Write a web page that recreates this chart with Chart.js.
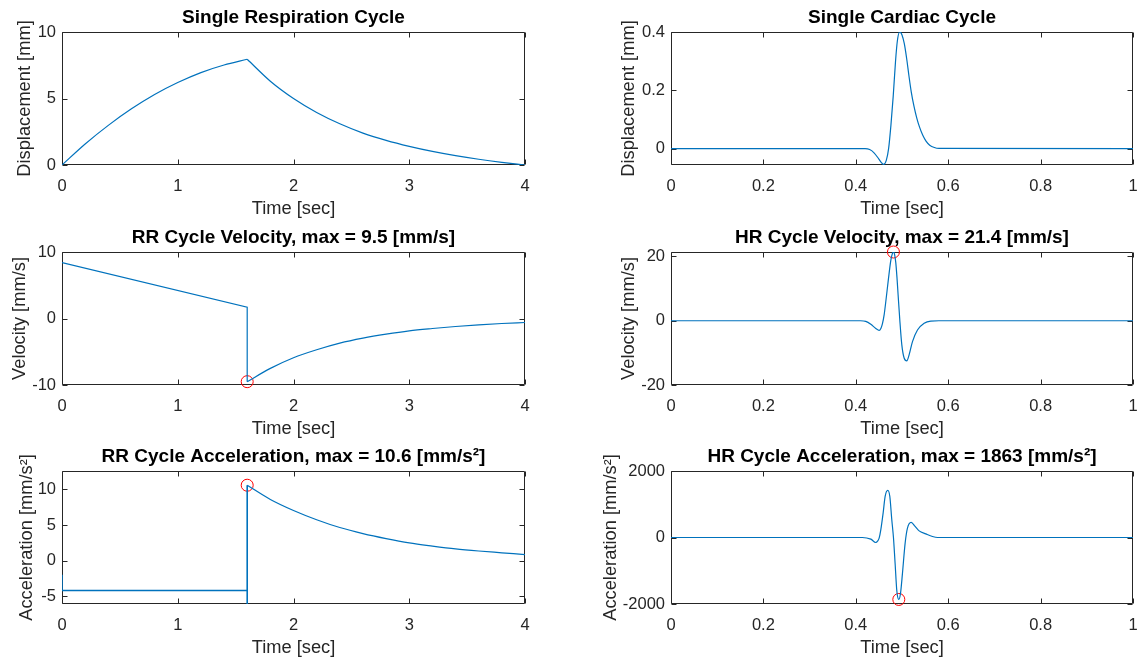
<!DOCTYPE html>
<html>
<head>
<meta charset="utf-8">
<script src="https://cdn.jsdelivr.net/npm/chart.js@4.4.1/dist/chart.umd.min.js"></script>
<style>
  html, body { margin: 0; padding: 0; background: #fff; width: 1138px; height: 663px; overflow: hidden; }
  canvas { position: absolute; }
</style>
</head>
<body>
<canvas id="c1"></canvas>
<canvas id="c2"></canvas>
<canvas id="c3"></canvas>
<canvas id="c4"></canvas>
<canvas id="c5"></canvas>
<canvas id="c6"></canvas>
<script>
// respiration cycle (left column), time in sec
const respRiseT = [0, 0.2, 0.4, 0.6, 0.8, 1.0, 1.2, 1.4, 1.6];
const respRiseY = [0, 1.58, 2.98, 4.22, 5.3, 6.2, 6.95, 7.52, 7.95];
const decayT = [1.6, 1.8, 2.0, 2.2, 2.4, 2.6, 2.8, 3.0, 3.2, 3.4, 3.6, 3.8, 4.0];
const respFallY = [7.95, 6.3, 5.0, 3.95, 3.1, 2.4, 1.85, 1.4, 1.02, 0.7, 0.43, 0.2, 0];

const rrVelLineT = [0, 1.6, 1.6];
const rrVelLineY = [8.4, 1.7, -9.5];
const rrVelDecayY = [-9.5, -7.5, -5.9, -4.7, -3.7, -2.95, -2.35, -1.85, -1.5, -1.2, -0.95, -0.75, -0.6];

const rrAccLineT = [0, 0, 1.6, 1.6, 1.6];
const rrAccLineY = [-2.0, -4.2, -4.2, -8, 10.6];
const rrAccDecayY = [10.6, 8.6, 7.05, 5.75, 4.65, 3.8, 3.1, 2.5, 2.05, 1.65, 1.35, 1.1, 0.85];

// cardiac cycle (right column)
const hrDispT = [0, 0.42, 0.43, 0.44, 0.45, 0.455, 0.46, 0.466, 0.471, 0.476, 0.481, 0.486, 0.490, 0.495,
  0.500, 0.505, 0.510, 0.515, 0.520, 0.526, 0.532, 0.538, 0.545, 0.552, 0.56, 0.57, 0.58, 1.0];
const hrDispY = [0, 0, -0.003, -0.015, -0.036, -0.047, -0.054, -0.04, 0.0, 0.08, 0.18, 0.30, 0.37, 0.40,
  0.39, 0.36, 0.31, 0.25, 0.195, 0.145, 0.105, 0.074, 0.046, 0.026, 0.012, 0.004, 0.001, 0];

const hrVelT = [0, 0.41, 0.4216, 0.4325, 0.4433, 0.4505, 0.4545, 0.4577, 0.4615, 0.4649, 0.4707, 0.4758,
  0.4790, 0.4815, 0.4840, 0.4866, 0.4891, 0.4916, 0.4952, 0.4996, 0.5046, 0.5104, 0.5154, 0.5227, 0.5335,
  0.5479, 0.5623, 0.58, 1.0];
const hrVelY = [0, 0, -0.2, -1.1, -2.4, -3.0, -2.3, -0.9, 2.0, 5.9, 13.1, 18.8,
  20.8, 21.4, 20.6, 18.0, 13.5, 8.0, 0.3, -7.5, -11.6, -12.5, -10.6, -6.5, -2.9,
  -0.8, -0.1, 0, 0];

const hrAccT = [0, 0.414, 0.4325, 0.4433, 0.4475, 0.4505, 0.4541, 0.4592, 0.4635, 0.4693, 0.4736, 0.4779,
  0.4815, 0.4851, 0.4887, 0.4931, 0.4967, 0.5010, 0.5068, 0.5118, 0.5198, 0.5284, 0.5371, 0.5515, 0.566,
  0.5772, 1.0];
const hrAccY = [0, 0, -50, -150, -100, -20, 230, 740, 1240, 1420, 1240, 535,
  0, -780, -1590, -1863, -1690, -1080, -170, 280, 455, 333, 200, 110, 30,
  0, 0];

// red circle markers [t, value]
const rrVelMark = [1.6, -9.5];
const rrAccMark = [1.6, 10.6];
const hrVelMark = [0.4815, 21.4];
const hrAccMark = [0.4931, -1863];

// ticks
const rrXTicks = [0, 1, 2, 3, 4];
const hrXTicks = [0, 0.2, 0.4, 0.6, 0.8, 1];
const dispYTicks = [0, 5, 10];
const hrDispYTicks = [0, 0.2, 0.4];
const rrVelYTicks = [-10, 0, 10];
const hrVelYTicks = [-20, 0, 20];
const rrAccYTicks = [-5, 0, 5, 10];
const hrAccYTicks = [-2000, 0, 2000];

const blue = '#0072bd';
const ink = '#262626';
const family = "'Liberation Sans', Arial, Helvetica, sans-serif";

function pts(xs, ys) {
  return xs.map((x, i) => ({ x: x, y: ys[i] }));
}

function line(xs, ys, curved, width) {
  return {
    data: pts(xs, ys),
    showLine: true,
    borderColor: blue,
    borderWidth: width || 1.2,
    pointRadius: 0,
    tension: 0,
    cubicInterpolationMode: curved ? 'monotone' : 'default'
  };
}

function mark(m) {
  return {
    data: [{ x: m[0], y: m[1] }],
    showLine: false,
    pointRadius: 6,
    pointBorderColor: '#ff0000',
    pointBackgroundColor: 'rgba(0,0,0,0)',
    pointBorderWidth: 1,
    clip: false
  };
}

// matlab style box with inward ticks on all four sides
const frame = {
  id: 'frame',
  beforeDatasetsDraw(chart) {
    const { ctx, chartArea: a, scales: { x, y } } = chart;
    const L = Math.round(a.left) + 0.5, R = Math.round(a.right) - 0.5;
    const T = Math.round(a.top) + 0.5, B = Math.round(a.bottom) - 0.5;
    ctx.save();
    ctx.strokeStyle = ink;
    ctx.lineWidth = 1;
    ctx.beginPath();
    ctx.rect(L, T, R - L, B - T);
    x.ticks.forEach(t => {
      const p = Math.round(x.getPixelForValue(t.value)) + 0.5;
      ctx.moveTo(p, B); ctx.lineTo(p, B - 5);
      ctx.moveTo(p, T); ctx.lineTo(p, T + 5);
    });
    y.ticks.forEach(t => {
      const p = Math.round(y.getPixelForValue(t.value)) + 0.5;
      ctx.moveTo(L, p); ctx.lineTo(L + 5, p);
      ctx.moveTo(R, p); ctx.lineTo(R - 5, p);
    });
    ctx.stroke();
    ctx.restore();
  }
};

const CHART_H = 133, TITLE_H = 29, XAXIS_H = 56, RIGHT_PAD = 20;

function makePlot(id, p) {
  const canvas = document.getElementById(id);
  const w = p.yWidth + p.plotW + RIGHT_PAD;
  const h = TITLE_H + CHART_H + XAXIS_H;
  canvas.width = w; canvas.height = h;
  canvas.style.left = p.left + 'px';
  canvas.style.top = (p.top - TITLE_H) + 'px';
  canvas.style.width = w + 'px';
  canvas.style.height = h + 'px';

  return new Chart(canvas.getContext('2d'), {
    type: 'scatter',
    data: { datasets: p.datasets },
    options: {
      responsive: false,
      animation: false,
      events: [],
      layout: { padding: { left: 0, top: 0, right: RIGHT_PAD, bottom: 0 } },
      plugins: {
        legend: { display: false },
        tooltip: { enabled: false },
        title: {
          display: true,
          text: p.title,
          fullSize: false,
          color: '#000',
          font: { family: family, size: 19, weight: 'bold' },
          padding: { top: 3.6, bottom: 2.6 }
        }
      },
      scales: {
        x: {
          type: 'linear',
          min: p.xRange[0], max: p.xRange[1],
          grid: { display: false, drawTicks: false },
          border: { display: false },
          afterBuildTicks: s => { s.ticks = p.xTicks.map(v => ({ value: v })); },
          afterFit: s => { s.height = XAXIS_H; },
          ticks: {
            color: ink, padding: 12, maxRotation: 0, autoSkip: false,
            font: { family: family, size: 16.5 },
            callback: v => String(v)
          },
          title: {
            display: true, text: 'Time [sec]', color: ink,
            font: { family: family, size: 18.3 },
            padding: { top: 0, bottom: 1 }
          }
        },
        y: {
          type: 'linear',
          min: p.yRange[0], max: p.yRange[1],
          grid: { display: false, drawTicks: false },
          border: { display: false },
          afterBuildTicks: s => { s.ticks = p.yTicks.map(v => ({ value: v })); },
          afterFit: s => { s.width = p.yWidth; },
          ticks: {
            color: ink, padding: 6, autoSkip: false,
            font: { family: family, size: 16.5 },
            callback: v => String(v)
          },
          title: {
            display: true, text: p.yLabel, color: ink,
            font: { family: family, size: 18.3 },
            padding: { top: p.yLabelX - 9.5, bottom: 0 }
          }
        }
      }
    },
    plugins: [frame]
  });
}

const leftCol = { left: 0, yWidth: 62, plotW: 463 };
const rightCol = { left: 580, yWidth: 91, plotW: 462 };
const rowTop = [32, 252, 471];

makePlot('c1', Object.assign({}, leftCol, {
  top: rowTop[0], title: 'Single Respiration Cycle', yLabel: 'Displacement [mm]', yLabelX: 23,
  xRange: [0, 4], yRange: [0, 10], xTicks: rrXTicks, yTicks: dispYTicks,
  datasets: [line(respRiseT, respRiseY, true), line(decayT, respFallY, true)]
}));

makePlot('c2', Object.assign({}, rightCol, {
  top: rowTop[0], title: 'Single Cardiac Cycle', yLabel: 'Displacement [mm]', yLabelX: 627 - 580,
  xRange: [0, 1], yRange: [-0.056, 0.4], xTicks: hrXTicks, yTicks: hrDispYTicks,
  datasets: [line(hrDispT, hrDispY, true)]
}));

makePlot('c3', Object.assign({}, leftCol, {
  top: rowTop[1], title: 'RR Cycle Velocity, max = 9.5 [mm/s]', yLabel: 'Velocity [mm/s]', yLabelX: 18,
  xRange: [0, 4], yRange: [-10, 10], xTicks: rrXTicks, yTicks: rrVelYTicks,
  datasets: [line(rrVelLineT, rrVelLineY, false), line(decayT, rrVelDecayY, true), mark(rrVelMark)]
}));

makePlot('c4', Object.assign({}, rightCol, {
  top: rowTop[1], title: 'HR Cycle Velocity, max = 21.4 [mm/s]', yLabel: 'Velocity [mm/s]', yLabelX: 627 - 580,
  xRange: [0, 1], yRange: [-20, 21.4], xTicks: hrXTicks, yTicks: hrVelYTicks,
  datasets: [line(hrVelT, hrVelY, true), mark(hrVelMark)]
}));

makePlot('c5', Object.assign({}, leftCol, {
  top: rowTop[2], title: 'RR Cycle Acceleration, max = 10.6 [mm/s²]', yLabel: 'Acceleration [mm/s²]', yLabelX: 25,
  xRange: [0, 4], yRange: [-6.1, 12.6], xTicks: rrXTicks, yTicks: rrAccYTicks,
  datasets: [line(rrAccLineT, rrAccLineY, false, 1.6), line(decayT, rrAccDecayY, true), mark(rrAccMark)]
}));

makePlot('c6', Object.assign({}, rightCol, {
  top: rowTop[2], title: 'HR Cycle Acceleration, max = 1863 [mm/s²]', yLabel: 'Acceleration [mm/s²]', yLabelX: 609 - 580,
  xRange: [0, 1], yRange: [-2000, 2000], xTicks: hrXTicks, yTicks: hrAccYTicks,
  datasets: [line(hrAccT, hrAccY, true), mark(hrAccMark)]
}));
</script>
</body>
</html>
